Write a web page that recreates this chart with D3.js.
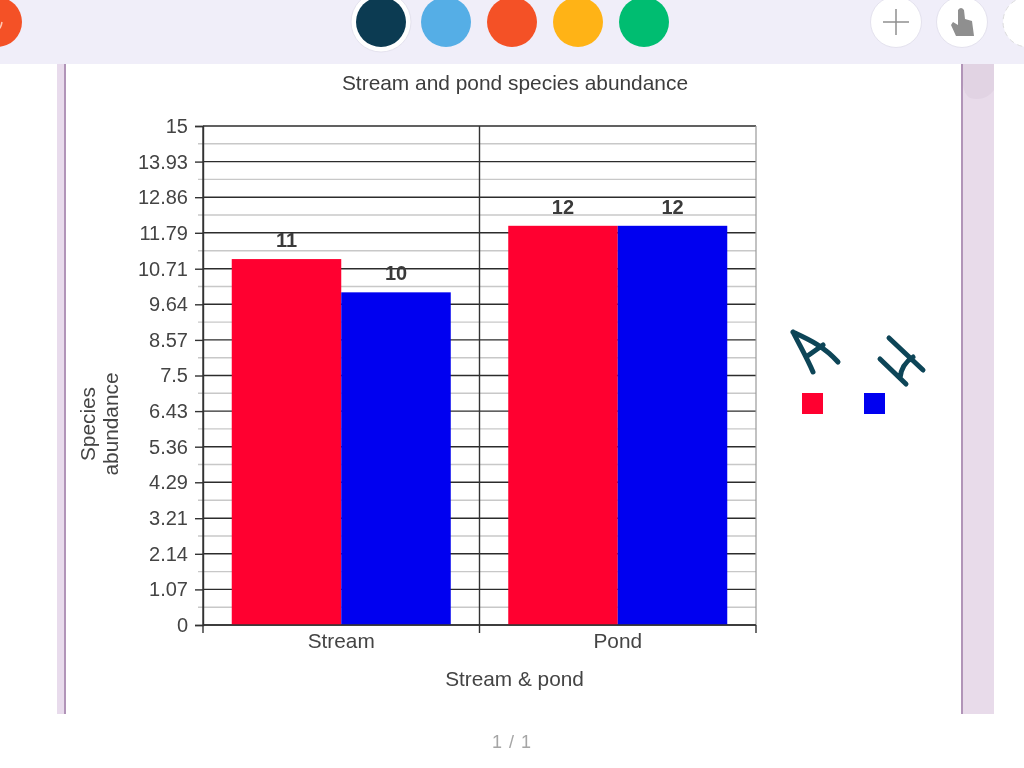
<!DOCTYPE html>
<html>
<head>
<meta charset="utf-8">
<style>html,body{margin:0;padding:0;background:#fff}svg{display:block;filter:blur(0.5px)}text{font-family:"Liberation Sans",Arial,sans-serif}</style>
<script src="https://cdn.jsdelivr.net/npm/d3@7"></script>
</head>
<body>
<svg id="c" width="1024" height="768"></svg>
<script>
const categories = ["Stream", "Pond"];
const seriesNames = ["A", "H"];
const seriesA = [11, 12];
const seriesH = [10, 12];
const tickValues = [0, 1.07, 2.14, 3.21, 4.29, 5.36, 6.43, 7.5, 8.57, 9.64, 10.71, 11.79, 12.86, 13.93, 15];
const swatchColors = ["#0c3b52", "#55aee6", "#f45126", "#ffb316", "#00bd71"];
const seriesColors = ["#ff0030", "#0000f0"];

const svg = d3.select("#c");
const L = 203, R = 756, T = 126, B = 625;
const y = d3.scaleLinear().domain([0, 15]).range([B, T]);
const x0 = d3.scaleBand().domain(categories).range([L, R]);
const x1 = d3.scaleBand().domain(seriesNames).range([0, x0.bandwidth()]).paddingOuter(0.2625).paddingInner(0);
const textCol = "#444";

// page frame
svg.append("rect").attr("x", 57).attr("y", 60).attr("width", 8).attr("height", 654).attr("fill", "#e8dbec");
svg.append("rect").attr("x", 64).attr("y", 60).attr("width", 2).attr("height", 654).attr("fill", "#b194b8");
svg.append("rect").attr("x", 961).attr("y", 60).attr("width", 33).attr("height", 654).attr("fill", "#e8dbea");
svg.append("rect").attr("x", 961).attr("y", 60).attr("width", 2).attr("height", 654).attr("fill", "#b194b8");
svg.append("path").attr("d", "M963 64H994V90Q985 102 970 98Q964 94 963 85Z").attr("fill", "#e1d3e3");

// top toolbar
svg.append("rect").attr("width", 1024).attr("height", 64).attr("fill", "#f0eef9");
svg.append("circle").attr("cx", -3).attr("cy", 22).attr("r", 25).attr("fill", "#f45126");
svg.append("path").attr("d", "M-1 9V25 M-4 28Q0 32 2 22").attr("stroke", "#ffc9b5").attr("stroke-width", 1.5).attr("fill", "none");
svg.append("circle").attr("cx", 381).attr("cy", 22).attr("r", 30).attr("fill", "#fff").attr("stroke", "#e4e2ee");
svg.selectAll("circle.sw").data(swatchColors).join("circle").attr("class", "sw")
  .attr("cx", (d, i) => [381, 446, 512, 578, 644][i]).attr("cy", 22).attr("r", 25).attr("fill", d => d);
[896, 962].forEach(cx => svg.append("circle").attr("cx", cx).attr("cy", 22).attr("r", 25.5).attr("fill", "#fff").attr("stroke", "#e4e2ee"));
svg.append("path").attr("d", "M896 9V35 M883 22H909").attr("stroke", "#909090").attr("stroke-width", 1.5);
svg.append("path").attr("d", "M958 10Q961 6 964 10L965 19L972 21L974 36H956L951 25L953 22L958 25Z").attr("fill", "#8f8f8f");
svg.append("circle").attr("cx", 1028).attr("cy", 22).attr("r", 25).attr("fill", "#fff").attr("stroke", "#ddd").attr("stroke-dasharray", "5 4");

// minor gridlines
const minor = d3.pairs(tickValues).map(([a, b]) => (a + b) / 2);
svg.append("g").selectAll("line").data(minor).join("line")
  .attr("x1", L - 5).attr("x2", R).attr("y1", d => y(d)).attr("y2", d => y(d))
  .attr("stroke", "#c8c8c8").attr("stroke-width", 1.4);

// major gridlines and y axis
svg.append("g").selectAll("line").data(tickValues).join("line")
  .attr("x1", L).attr("x2", R).attr("y1", d => y(d)).attr("y2", d => y(d))
  .attr("stroke", "#2c2c2c").attr("stroke-width", 1.4);

const yAxis = d3.axisLeft(y).tickValues(tickValues).tickFormat(d => String(d)).tickSize(8).tickPadding(7);
const yg = svg.append("g").attr("transform", `translate(${L},0)`).call(yAxis);
yg.selectAll("line,path").attr("stroke", "#333").attr("stroke-width", 1.4);
yg.selectAll("text").attr("font-size", 20).attr("fill", textCol).style("font-family", '"Liberation Sans",Arial,sans-serif');

// x axis ticks at band edges
const xEdges = [L, L + x0.bandwidth(), R];
svg.append("g").selectAll("line").data(xEdges).join("line")
  .attr("x1", d => d).attr("x2", d => d).attr("y1", (d, i) => i === 2 ? B : T).attr("y2", B + 8)
  .attr("stroke", "#333").attr("stroke-width", 1.4);
svg.append("line").attr("x1", R).attr("x2", R).attr("y1", T).attr("y2", B).attr("stroke", "#999").attr("stroke-width", 1.2);

// bars
const rows = categories.map((c, i) => [{c, s: "A", v: seriesA[i], k: 0}, {c, s: "H", v: seriesH[i], k: 1}]).flat();
svg.append("g").selectAll("rect").data(rows).join("rect")
  .attr("x", d => x0(d.c) + x1(d.s)).attr("width", x1.bandwidth())
  .attr("y", d => y(d.v)).attr("height", d => y(0) - y(d.v))
  .attr("fill", d => seriesColors[d.k]);
svg.append("line").attr("x1", L).attr("x2", R).attr("y1", B).attr("y2", B).attr("stroke", "#333").attr("stroke-width", 1.4);

// value labels
svg.append("g").selectAll("text").data(rows).join("text")
  .attr("x", d => x0(d.c) + x1(d.s) + x1.bandwidth() / 2).attr("y", d => y(d.v) - 12)
  .attr("text-anchor", "middle").attr("font-size", 20).attr("font-weight", 700).attr("fill", "#3a3a3a")
  .text(d => d.v);

// category labels
svg.append("g").selectAll("text").data(categories).join("text")
  .attr("x", d => x0(d) + x0.bandwidth() / 2).attr("y", 648)
  .attr("text-anchor", "middle").attr("font-size", 20.8).attr("fill", textCol).text(d => d);

// titles
svg.append("text").attr("x", 515).attr("y", 90).attr("text-anchor", "middle").attr("font-size", 20.9).attr("fill", "#3d3d3d").text("Stream and pond species abundance");
svg.append("text").attr("x", 514.5).attr("y", 686).attr("text-anchor", "middle").attr("font-size", 20.8).attr("fill", textCol).text("Stream & pond");
const yt = svg.append("text").attr("transform", "translate(95,424) rotate(-90)").attr("text-anchor", "middle").attr("font-size", 20.8).attr("fill", textCol);
yt.append("tspan").attr("x", 0).attr("y", 0).text("Species");
yt.append("tspan").attr("x", 0).attr("y", 23).text("abundance");

// page number
svg.append("text").attr("x", 512).attr("y", 748).attr("text-anchor", "middle").attr("font-size", 18).attr("fill", "#a5a5a5").attr("letter-spacing", 1).text("1 / 1");

// hand-drawn legend
svg.selectAll("rect.leg").data(seriesColors).join("rect").attr("class", "leg")
  .attr("x", (d, i) => [802, 864][i]).attr("y", 393).attr("width", 21).attr("height", 21).attr("fill", d => d);
const ink = svg.append("g").attr("fill", "none").attr("stroke", "#0d4557").attr("stroke-width", 5).attr("stroke-linecap", "round").attr("stroke-linejoin", "round");
ink.append("path").attr("d", "M793 332C800 346 807 358 813 372 M793 332C808 339 824 346 838 362 M806 357L823 345");
ink.append("path").attr("d", "M889 338L923 370 M880 359L906 384 M900 378C901 368 905 362 913 357");
</script>
</body>
</html>
